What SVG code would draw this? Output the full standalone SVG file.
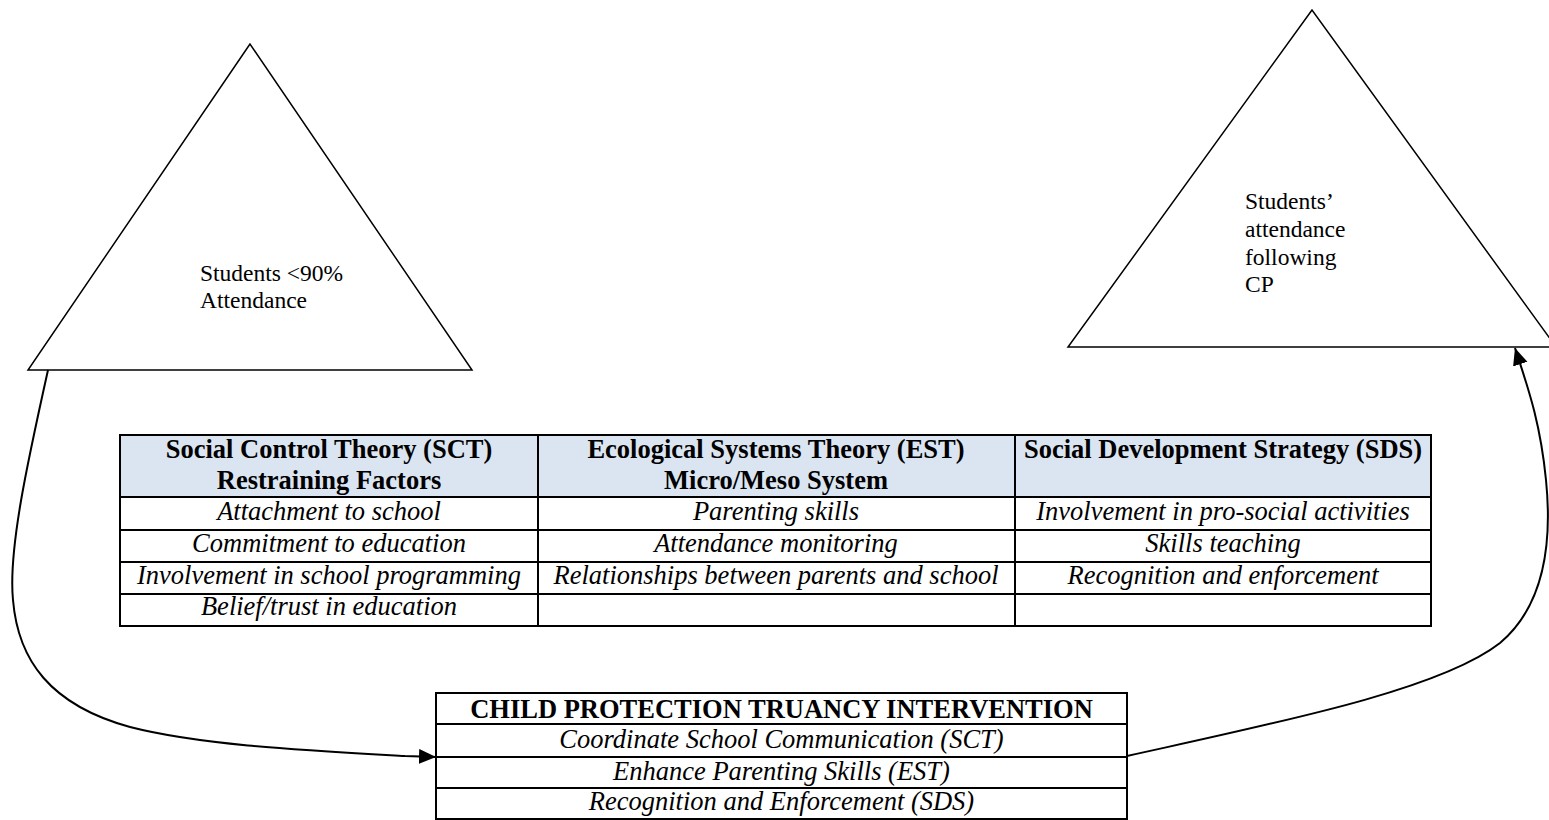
<svg xmlns="http://www.w3.org/2000/svg" width="1549" height="820" viewBox="0 0 1549 820">
<style>
.tri{fill:none;stroke:#000;stroke-width:1.5}
.lbl{font-family:"Liberation Serif","Times New Roman",serif;font-size:23.5px;fill:#000}
.grid{fill:none;stroke:#000;stroke-width:2}
.hd{font-family:"Liberation Serif","Times New Roman",serif;font-size:26.5px;font-weight:bold;fill:#000;text-anchor:middle}
.it{font-family:"Liberation Serif","Times New Roman",serif;font-size:26.5px;font-style:italic;fill:#000;text-anchor:middle}
.con{fill:none;stroke:#000;stroke-width:2}
</style>
<defs>
<marker id="ah" markerUnits="userSpaceOnUse" markerWidth="19" markerHeight="16" refX="17" refY="7.5" orient="auto">
<path d="M0,0 L17,7.5 L0,15 z" fill="#000"/>
</marker>
</defs>
<rect width="1549" height="820" fill="#fff"/>

<g id="start-triangle">
<polygon class="tri" points="250,44 28,370 472,370"/>
<text class="lbl" x="200" y="281">Students &lt;90%</text>
<text class="lbl" x="200" y="308">Attendance</text>
</g>

<g id="end-triangle">
<polygon class="tri" points="1312,10 1068,347 1556,347"/>
<text class="lbl" x="1245" y="209">Students’</text>
<text class="lbl" x="1245" y="237">attendance</text>
<text class="lbl" x="1245" y="265">following</text>
<text class="lbl" x="1245" y="292">CP</text>
</g>

<g id="theory-table">
<rect x="120" y="435" width="1311" height="62" fill="#dbe5f1"/>
<rect class="grid" x="120" y="435" width="1311" height="191"/>
<line class="grid" x1="538" y1="435" x2="538" y2="626"/>
<line class="grid" x1="1015" y1="435" x2="1015" y2="626"/>
<line class="grid" x1="120" y1="497" x2="1431" y2="497"/>
<line class="grid" x1="120" y1="530" x2="1431" y2="530"/>
<line class="grid" x1="120" y1="562" x2="1431" y2="562"/>
<line class="grid" x1="120" y1="594" x2="1431" y2="594"/>
<text class="hd" x="329" y="458">Social Control Theory (SCT)</text>
<text class="hd" x="329" y="489">Restraining Factors</text>
<text class="hd" x="776" y="458">Ecological Systems Theory (EST)</text>
<text class="hd" x="776" y="489">Micro/Meso System</text>
<text class="hd" x="1223" y="458">Social Development Strategy (SDS)</text>
<text class="it" x="329" y="520">Attachment to school</text>
<text class="it" x="329" y="552">Commitment to education</text>
<text class="it" x="329" y="584">Involvement in school programming</text>
<text class="it" x="329" y="615">Belief/trust in education</text>
<text class="it" x="776" y="520">Parenting skills</text>
<text class="it" x="776" y="552">Attendance monitoring</text>
<text class="it" x="776" y="584">Relationships between parents and school</text>
<text class="it" x="1223" y="520">Involvement in pro-social activities</text>
<text class="it" x="1223" y="552">Skills teaching</text>
<text class="it" x="1223" y="584">Recognition and enforcement</text>
</g>

<g id="intervention-box">
<rect class="grid" x="436" y="693" width="691" height="126"/>
<line class="grid" x1="436" y1="724" x2="1127" y2="724"/>
<line class="grid" x1="436" y1="757" x2="1127" y2="757"/>
<line class="grid" x1="436" y1="788" x2="1127" y2="788"/>
<text class="hd" x="781.5" y="718">CHILD PROTECTION TRUANCY INTERVENTION</text>
<text class="it" x="781.5" y="748">Coordinate School Communication (SCT)</text>
<text class="it" x="781.5" y="780">Enhance Parenting Skills (EST)</text>
<text class="it" x="781.5" y="810">Recognition and Enforcement (SDS)</text>
</g>

<g id="connectors">
<path class="con" d="M48,370 C28,460 8,550 13,600 C18,660 50,705 130,727 C200,745 300,750 405,756 L436,757" marker-end="url(#ah)"/>
<path class="con" d="M1127,756 C1280,722 1440,690 1500,643 C1545,605 1552,540 1546,480 C1540,420 1527,385 1515,348" marker-end="url(#ah)"/>
</g>
</svg>
